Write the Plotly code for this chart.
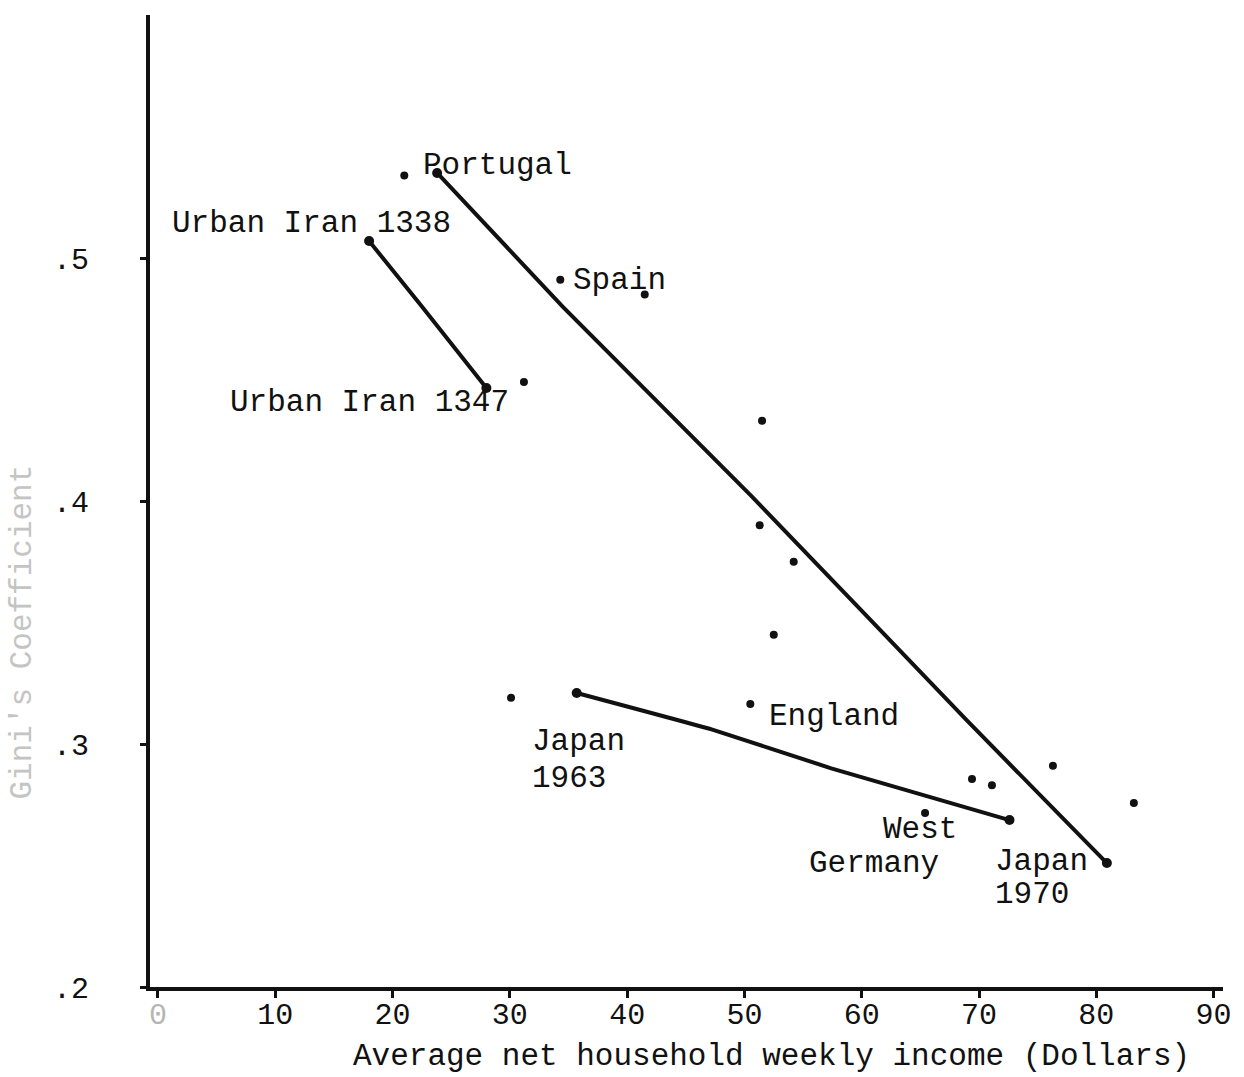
import plotly.graph_objects as go

# ---- data ----
# scatter points (unlabelled and labelled countries)
pt_x = [21.0, 31.2, 34.3, 41.5, 51.5, 51.3, 54.2, 52.5, 50.5, 69.4, 71.1, 65.4, 76.3, 83.2, 30.1]
pt_y = [0.534, 0.449, 0.491, 0.485, 0.433, 0.390, 0.375, 0.345, 0.3165, 0.2856, 0.283, 0.2716, 0.291, 0.2757, 0.319]

# long trend line: Portugal -> Japan 1970
trend_x = [23.8, 34.5, 50.6, 68.9, 80.9]
trend_y = [0.535, 0.480, 0.402, 0.310, 0.251]

# Urban Iran 1338 -> 1347
iran_x = [18.0, 22.5, 28.0]
iran_y = [0.507, 0.480, 0.4465]

# Japan 1963 -> Japan 1970 (lower line)
japan_x = [35.7, 47.2, 57.4, 72.6]
japan_y = [0.321, 0.306, 0.290, 0.2687]

x_ticks = [0, 10, 20, 30, 40, 50, 60, 70, 80, 90]
x_ticktext = ["<span style='color:#b5b5b5'>0</span>", "10", "20", "30", "40", "50", "60", "70", "80", "90"]
y_ticks = [0.2, 0.3, 0.4, 0.5]
y_ticktext = [".2", ".3", ".4", ".5"]

labels = [
    ("Portugal", 22.4, 0.5379),
    ("Urban Iran 1338", 1.0, 0.5140),
    ("Spain", 35.2, 0.4909),
    ("Urban Iran 1347", 6.0, 0.4407),
    ("England", 51.9, 0.3115),
    ("Japan", 31.7, 0.3012),
    ("1963", 31.7, 0.2860),
    ("West", 61.6, 0.2650),
    ("Germany", 55.3, 0.2510),
    ("Japan", 71.2, 0.2515),
    ("1970", 71.2, 0.2379),
]

FONT = "Liberation Mono, Courier New, monospace"
INK = "#111111"

fig = go.Figure()

for lx, ly in [(trend_x, trend_y), (iran_x, iran_y), (japan_x, japan_y)]:
    fig.add_trace(go.Scatter(
        x=lx, y=ly, mode="lines",
        line=dict(color=INK, width=4, shape="spline", smoothing=0.3),
        hoverinfo="skip", showlegend=False))
    fig.add_trace(go.Scatter(
        x=[lx[0], lx[-1]], y=[ly[0], ly[-1]], mode="markers",
        marker=dict(color=INK, size=10), hoverinfo="skip", showlegend=False))

fig.add_trace(go.Scatter(
    x=pt_x, y=pt_y, mode="markers",
    marker=dict(color=INK, size=8), showlegend=False))

for text, ax, ay in labels:
    fig.add_annotation(x=ax, y=ay, xref="x", yref="y", text=text,
                       showarrow=False, xanchor="left", yanchor="middle",
                       font=dict(family=FONT, size=31, color=INK))

fig.add_annotation(xref="paper", yref="paper", x=-0.119, y=0.365,
                   text="Gini's Coefficient", textangle=-90, showarrow=False,
                   xanchor="center", yanchor="middle",
                   font=dict(family=FONT, size=31, color="#c4c4c4"))

fig.add_annotation(xref="paper", yref="paper", x=0.5795, y=-0.072,
                   text="Average net household weekly income (Dollars)",
                   showarrow=False, xanchor="center", yanchor="middle",
                   font=dict(family=FONT, size=31, color=INK))

fig.update_layout(
    width=1244, height=1077,
    margin=dict(l=150, r=19, t=15, b=90),
    paper_bgcolor="white", plot_bgcolor="white",
    font=dict(family=FONT, size=30, color=INK),
    xaxis=dict(range=[-0.68, 90.8], tickvals=x_ticks, ticktext=x_ticktext,
               showgrid=False, zeroline=False, showline=True,
               linecolor=INK, linewidth=4, ticks="outside", ticklen=7,
               tickwidth=2.5, tickcolor=INK, ticklabelstandoff=-10),
    yaxis=dict(range=[0.2, 0.6], tickvals=y_ticks, ticktext=y_ticktext,
               showgrid=False, zeroline=False, showline=True,
               linecolor=INK, linewidth=4, ticks="outside", ticklen=6,
               tickwidth=2.5, tickcolor=INK, ticklabelstandoff=45),
)

fig.write_html("out.html")
